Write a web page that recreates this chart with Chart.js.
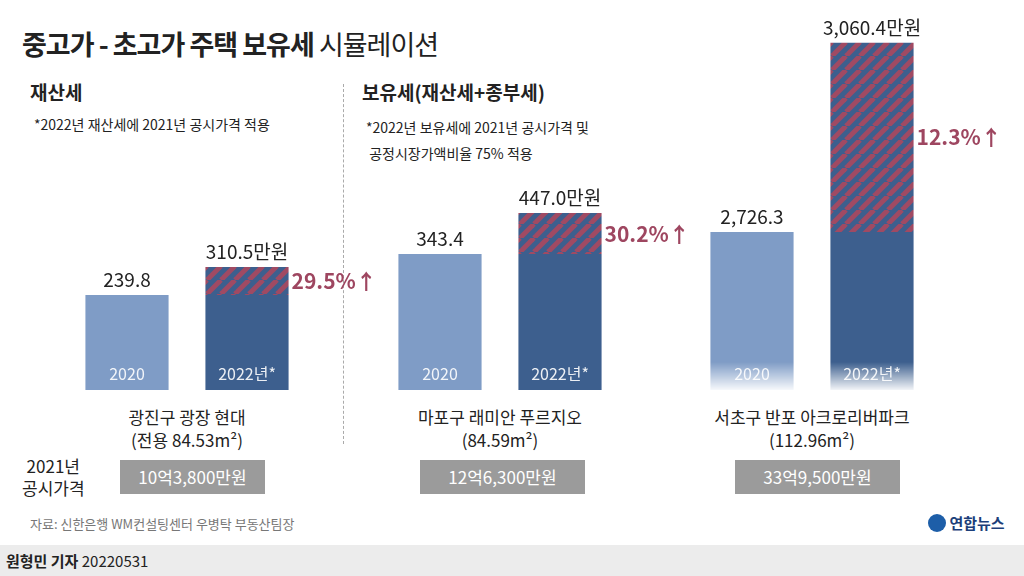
<!DOCTYPE html>
<html><head><meta charset="utf-8">
<script src="https://cdn.jsdelivr.net/npm/chart.js@4/dist/chart.umd.min.js"></script>
<style>
body{margin:0;width:1024px;height:576px;position:relative;background:#fff;font-family:"Noto Sans CJK KR","Noto Sans",sans-serif;color:#222;overflow:hidden}
.t{position:absolute;white-space:nowrap}
canvas{position:absolute}
.box{position:absolute;top:460px;height:34px;background:#9b9b9b;color:#fff;font-size:17px;line-height:34px;text-align:center}
.lbl{position:absolute;text-align:center;font-size:17px;line-height:23px;width:260px}
</style></head><body>
<div class="t" style="left:22px;top:24px;font-size:27px;font-weight:700;letter-spacing:-1px">중고가 - 초고가 주택 보유세 <span style="font-weight:400">시뮬레이션</span></div>
<div class="t" style="left:30px;top:78px;font-size:19px;font-weight:700">재산세</div>
<div class="t" style="left:34px;top:114px;font-size:14px">*2022년 재산세에 2021년 공시가격 적용</div>
<div class="t" style="left:362px;top:78px;font-size:19px;font-weight:700">보유세(재산세+종부세)</div>
<div class="t" style="left:366px;top:114px;font-size:14px;line-height:26px">*2022년 보유세에 2021년 공시가격 및<br>&nbsp;공정시장가액비율 75% 적용</div>
<div style="position:absolute;left:343px;top:84px;height:360px;border-left:1px dashed #aaa"></div>
<canvas id="c0" width="340" height="390" style="left:67px;top:0px"></canvas>
<canvas id="c1" width="340" height="390" style="left:380px;top:0px"></canvas>
<canvas id="c2" width="340" height="390" style="left:692px;top:0px"></canvas>
<div style="position:absolute;left:700px;top:362px;width:230px;height:30px;background:linear-gradient(rgba(255,255,255,0),#fff)"></div>
<div class="lbl" style="left:57px;top:405px">광진구 광장 현대<br>(전용 84.53m²)</div>
<div class="lbl" style="left:370px;top:405px">마포구 래미안 푸르지오<br>(84.59m²)</div>
<div class="lbl" style="left:682px;top:405px">서초구 반포 아크로리버파크<br>(112.96m²)</div>
<div class="t" style="left:22px;top:455px;font-size:17px;line-height:22px;text-align:center">2021년<br>공시가격</div>
<div class="box" style="left:120px;width:145px">10억3,800만원</div>
<div class="box" style="left:420px;width:165px">12억6,300만원</div>
<div class="box" style="left:735px;width:165px">33억9,500만원</div>
<div class="t" style="left:30px;top:514px;font-size:13px;color:#777">자료: 신한은행 WM컨설팅센터 우병탁 부동산팀장</div>
<div class="t" style="left:928px;top:512px;font-size:15px;font-weight:700;color:#1d3f7a"><span style="display:inline-block;width:18px;height:18px;border-radius:50%;background:#1d5ea8;vertical-align:-3px"></span> 연합뉴스</div>
<div style="position:absolute;left:0;top:545px;width:1024px;height:31px;background:#ececec"></div>
<div class="t" style="left:6px;top:550px;font-size:15px"><b>원형민 기자</b> 20220531</div>
<script>
const years = ['2020', '2022년*'];
const base2020 = [239.8, 343.4, 2726.3];
const total2022 = [310.5, 447.0, 3060.4];
const valueLabels = [['239.8', '310.5만원'], ['343.4', '447.0만원'], ['2,726.3', '3,060.4만원']];
const pctLabels = ['29.5%↑', '30.2%↑', '12.3%↑'];
const yMin = [0, 0, 2447];
const yMax = [985, 985, 3136];

function stripes() {
    const p = document.createElement('canvas');
    p.width = 14; p.height = 14;
    const g = p.getContext('2d');
    g.fillStyle = '#3d5f8e'; g.fillRect(0, 0, 14, 14);
    g.strokeStyle = '#a04a63'; g.lineWidth = 5;
    for (let k = -14; k <= 28; k += 14) {
        g.beginPath(); g.moveTo(k, 14); g.lineTo(k + 14, 0); g.stroke();
    }
    return g.createPattern(p, 'repeat');
}

const labelPlugin = {
    id: 'labels',
    afterDatasetsDraw(chart) {
        const i = chart.options.groupIndex;
        const ctx = chart.ctx;
        const b0 = chart.getDatasetMeta(0).data;
        const b1 = chart.getDatasetMeta(1).data;
        ctx.save();
        ctx.textAlign = 'center';
        ctx.fillStyle = '#222';
        ctx.font = '19px "Noto Sans CJK KR"';
        ctx.fillText(valueLabels[i][0], b0[0].x, b0[0].y - 8);
        ctx.fillText(valueLabels[i][1], b1[1].x, b1[1].y - 8);
        ctx.fillStyle = 'rgba(255,255,255,0.9)';
        ctx.font = '16px "Noto Sans CJK KR"';
        const bottom = chart.chartArea.bottom;
        ctx.fillText(years[0], b0[0].x, bottom - 10);
        ctx.fillText(years[1], b0[1].x, bottom - 10);
        ctx.textAlign = 'left';
        ctx.fillStyle = '#9e4660';
        ctx.font = 'bold 21px "Noto Sans CJK KR"';
        const midY = (b1[1].y + b0[1].y) / 2 + 8;
        ctx.fillText(pctLabels[i], b1[1].x + b1[1].width / 2 + 3, midY);
        ctx.restore();
    }
};

for (let i = 0; i < 3; i++) {
    new Chart(document.getElementById('c' + i), {
        type: 'bar',
        data: {
            labels: years,
            datasets: [
                { data: [base2020[i], base2020[i]], backgroundColor: ['#7f9cc6', '#3d5f8e'], categoryPercentage: 0.7, barPercentage: 0.99 },
                { data: [0, total2022[i] - base2020[i]], backgroundColor: stripes(), categoryPercentage: 0.7, barPercentage: 0.99 }
            ]
        },
        options: {
            groupIndex: i,
            responsive: false,
            animation: false,
            layout: { padding: { left: 0, right: 100, top: 0, bottom: 0 } },
            scales: {
                x: { stacked: true, display: false },
                y: { stacked: true, display: false, min: yMin[i], max: yMax[i] }
            },
            plugins: { legend: { display: false }, tooltip: { enabled: false } }
        },
        plugins: [labelPlugin]
    });
}
</script>
</body></html>
